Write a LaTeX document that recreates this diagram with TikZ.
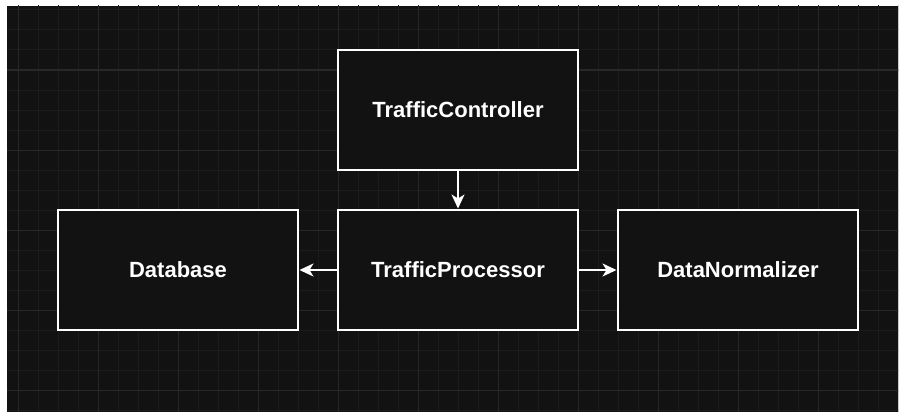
\documentclass[tikz,border=0pt]{standalone}
\usepackage{fontspec}
\setmainfont{Liberation Sans}
\usetikzlibrary{arrows.meta}
\definecolor{canvas}{HTML}{121212}
\definecolor{gridminor}{HTML}{1C1C1C}
\definecolor{gridmajor}{HTML}{282828}
\tikzset{
  block/.style={draw=white, line width=2pt, fill=canvas, rectangle,
    minimum width=240pt, minimum height=120pt, inner sep=0pt, outer sep=0pt,
    text=white, font=\fontsize{22}{26}\selectfont\bfseries},
  link/.style={draw=white, line width=2pt,
    -{Stealth[length=14pt, width=13pt, inset=4pt]}, shorten >=1.5pt}
}
\begin{document}
\begin{tikzpicture}[x=1pt, y=-1pt]
  % page frame and dark canvas
  \fill[white] (0,0) rectangle (899,412);
  \fill[canvas] (7,6) rectangle (898,412);
  \useasboundingbox (0,0) rectangle (899,412);
  % background grid
  \begin{scope}
    \clip (7,6) rectangle (898,412);
    \foreach \gx in {18,38,...,898} \draw[gridminor, line width=1pt] (\gx,0) -- (\gx,412);
    \foreach \gy in {10,30,...,412} \draw[gridminor, line width=1pt] (0,\gy) -- (899,\gy);
    \foreach \gx in {18,98,...,898} \draw[gridmajor, line width=1pt] (\gx,0) -- (\gx,412);
    \foreach \gy in {-10,70,...,412} \draw[gridmajor, line width=1pt] (0,\gy) -- (899,\gy);
  \end{scope}
  % components
  \node[block] (tc) at (458,110) {TrafficController};
  \node[block] (tp) at (458,270) {TrafficProcessor};
  \node[block] (db) at (178,270) {Database};
  \node[block] (dn) at (738,270) {DataNormalizer};
  % dependencies
  \draw[link] (tc) -- (tp);
  \draw[link] (tp) -- (db);
  \draw[link] (tp) -- (dn);
\end{tikzpicture}
\end{document}
